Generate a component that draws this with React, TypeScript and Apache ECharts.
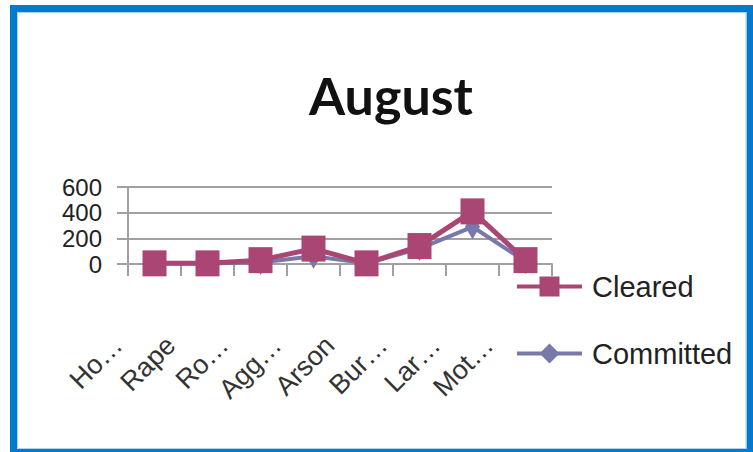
import React, { useEffect, useRef } from "react";
import * as echarts from "echarts";

const categories = ["Ho…", "Rape", "Ro…", "Agg…", "Arson", "Bur…", "Lar…", "Mot…"];
const cleared = [5, 5, 30, 120, 5, 140, 410, 30];
const committed = [3, 3, 12, 60, 5, 120, 290, 20];
const yTicks = { min: 0, max: 600, interval: 200 };

const CLEARED_COLOR = "#AA4673";
const COMMITTED_COLOR = "#7878AA";
const GRID_COLOR = "#a0a0a0";
const FONT = "'Liberation Sans', Arial, sans-serif";

export default function App() {
  const ref = useRef<HTMLDivElement>(null);
  useEffect(() => {
    if (!ref.current) return;
    const chart = echarts.init(ref.current, undefined, { renderer: "svg" });
    chart.setOption({
      animation: false,
      backgroundColor: "#ffffff",
      title: {
        text: "August",
        left: 386,
        top: 64,
        textAlign: "center",
        textStyle: {
          fontFamily: "Lato, sans-serif",
          fontWeight: "bold",
          fontSize: 52,
          color: "#111",
        },
      },
      graphic: [
        {
          type: "rect",
          shape: { x: 13.5, y: 8.5, width: 736.5, height: 444 },
          style: { fill: "none", stroke: "#007ACC", lineWidth: 7 },
          silent: true,
        },
        {
          type: "rect",
          shape: { x: 17.5, y: 12.5, width: 728.5, height: 436 },
          style: { fill: "none", stroke: "#a8d4f0", lineWidth: 1 },
          silent: true,
        },
      ],
      legend: {
        orient: "vertical",
        left: 515,
        top: 272,
        padding: 0,
        itemWidth: 65,
        itemHeight: 25,
        itemGap: 38,
        data: ["Cleared", "Committed"],
        lineStyle: { width: 4 },
        textStyle: { fontFamily: FONT, fontSize: 29, color: "#222", padding: [0, 0, 0, 5] },
      },
      grid: { left: 128, right: 201, top: 187, bottom: 188, containLabel: false },
      xAxis: {
        type: "category",
        data: categories,
        boundaryGap: true,
        axisLine: { show: true, lineStyle: { color: GRID_COLOR, width: 2 } },
        axisTick: { show: true, length: 12, lineStyle: { color: GRID_COLOR, width: 2 } },
        axisLabel: {
          interval: 0,
          rotate: 45,
          margin: 40,
          padding: [0, 52, 0, 0],
          fontFamily: FONT,
          fontSize: 27,
          color: "#333",
        },
      },
      yAxis: {
        type: "value",
        min: yTicks.min,
        max: yTicks.max,
        interval: yTicks.interval,
        axisLine: { show: true, lineStyle: { color: GRID_COLOR, width: 2 } },
        axisTick: { show: true, length: 11, lineStyle: { color: GRID_COLOR, width: 2 } },
        splitLine: { show: true, lineStyle: { color: GRID_COLOR, width: 2 } },
        axisLabel: { margin: 26, fontFamily: FONT, fontSize: 24, color: "#222" },
      },
      series: [
        {
          name: "Committed",
          type: "line",
          data: committed,
          color: COMMITTED_COLOR,
          symbol: "diamond",
          symbolSize: [15, 25],
          lineStyle: { color: COMMITTED_COLOR, width: 4 },
          itemStyle: { color: COMMITTED_COLOR },
        },
        {
          name: "Cleared",
          type: "line",
          data: cleared,
          color: CLEARED_COLOR,
          symbol: "rect",
          symbolSize: [24, 26],
          lineStyle: { color: CLEARED_COLOR, width: 5 },
          itemStyle: { color: CLEARED_COLOR },
        },
      ],
    });
    return () => chart.dispose();
  }, []);
  return (
    <div
      ref={ref}
      style={{ position: "absolute", left: 0, top: 0, width: 753, height: 452 }}
    />
  );
}
